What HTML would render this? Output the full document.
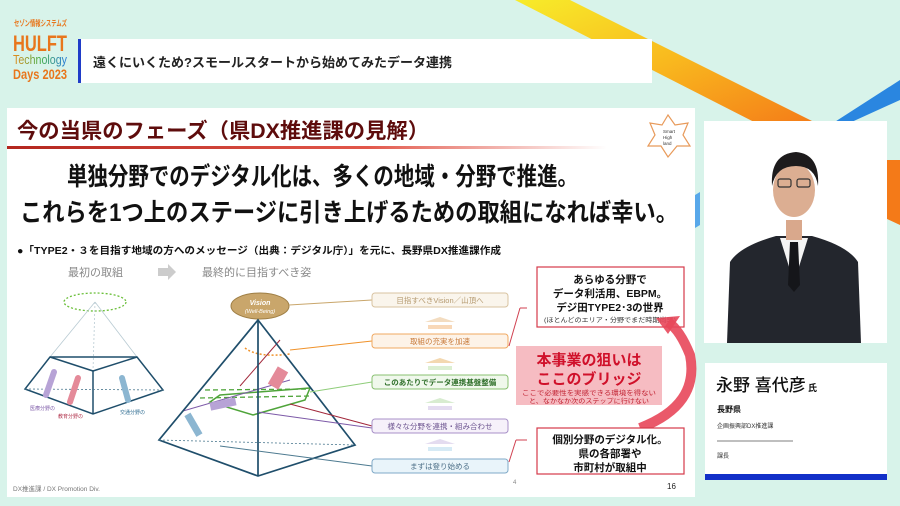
<!DOCTYPE html>
<html><head><meta charset="utf-8"><style>
html,body{margin:0;padding:0;width:900px;height:506px;overflow:hidden;background:#d8f3ea}
svg{display:block}
text{font-family:"Liberation Sans","Noto Sans CJK JP",sans-serif}
</style></head><body>
<svg width="900" height="506" viewBox="0 0 900 506" xmlns="http://www.w3.org/2000/svg">
<defs>
<linearGradient id="yel" x1="0" y1="0" x2="1" y2="1"><stop offset="0" stop-color="#f7ec2a"/><stop offset="0.5" stop-color="#f9b81e"/><stop offset="1" stop-color="#f47a18"/></linearGradient>
<linearGradient id="redl" x1="0" x2="1"><stop offset="0" stop-color="#b3261e"/><stop offset="0.6" stop-color="#e2574a"/><stop offset="1" stop-color="#fff"/></linearGradient>
<linearGradient id="tec" x1="0" x2="1"><stop offset="0" stop-color="#e98a1c"/><stop offset="0.5" stop-color="#49b04a"/><stop offset="1" stop-color="#2a7be0"/></linearGradient>
</defs>
<rect width="900" height="506" fill="#d8f3ea"/>
<!-- stripes -->
<polygon points="515,0 570,0 820,125 760,125" fill="url(#yel)"/>
<polygon points="885,160 900,160 900,225 885,218" fill="#f47a18"/>
<polygon points="900,80 900,100 845,125 830,125" fill="#2a86e0"/>
<polygon points="695,195 700,192 700,225 695,228" fill="#58a8ea"/>
<!-- logo -->
<text x="14" y="26" font-size="8" fill="#e8761c" font-weight="bold" textLength="53" lengthAdjust="spacingAndGlyphs">セゾン情報システムズ</text>
<text x="13" y="51" font-size="22" fill="#e8761c" font-weight="bold" textLength="54" lengthAdjust="spacingAndGlyphs">HULFT</text>
<text x="13" y="64" font-size="13" fill="url(#tec)" textLength="54" lengthAdjust="spacingAndGlyphs">Technology</text>
<text x="13" y="79" font-size="14" fill="#e8761c" font-weight="bold" textLength="54" lengthAdjust="spacingAndGlyphs">Days 2023</text>
<!-- header bar -->
<rect x="78" y="39" width="574" height="44" fill="#fff"/>
<rect x="78" y="39" width="3" height="44" fill="#1f3cc8"/>
<text x="93" y="67" font-size="13" fill="#222" font-weight="bold">遠くにいくため?スモールスタートから始めてみたデータ連携</text>
<!-- slide -->
<rect x="7" y="108" width="688" height="389" fill="#fff"/>
<text x="17" y="138" font-size="21" font-weight="bold" fill="#5e0c0c" textLength="412" lengthAdjust="spacingAndGlyphs">今の当県のフェーズ（県DX推進課の見解）</text>
<rect x="7" y="146" width="600" height="3" fill="url(#redl)"/>
<!-- Smart High land logo -->
<polygon points="668,115 675,125 688,123 683,135 690,146 677,146 668,157 661,146 648,146 655,135 650,123 662,125" fill="none" stroke="#e89a5a" stroke-width="1.2"/>
<text x="663" y="133" font-size="4.5" fill="#333">Smart</text><text x="663" y="139" font-size="4.5" fill="#333">High</text><text x="663" y="145" font-size="4.5" fill="#333">land</text>
<text x="67" y="185" font-size="25" font-weight="bold" fill="#111" textLength="511" lengthAdjust="spacingAndGlyphs">単独分野でのデジタル化は、多くの地域・分野で推進。</text>
<text x="20" y="221" font-size="25" font-weight="bold" fill="#111" textLength="658" lengthAdjust="spacingAndGlyphs">これらを1つ上のステージに引き上げるための取組になれば幸い。</text>
<text x="17" y="254" font-size="10" font-weight="bold" fill="#111" textLength="484" lengthAdjust="spacingAndGlyphs">●「TYPE2・３を目指す地域の方へのメッセージ（出典：デジタル庁）」を元に、長野県DX推進課作成</text>
<text x="68" y="276" font-size="11" fill="#888">最初の取組</text>
<polygon points="158,268 168,268 168,264 176,272 168,280 168,276 158,276" fill="#ccc"/>
<text x="202" y="276" font-size="11" fill="#888">最終的に目指すべき姿</text>
<!-- left pyramid -->
<ellipse cx="95" cy="302" rx="31" ry="9" fill="none" stroke="#6bbf3a" stroke-width="1.3" stroke-dasharray="2,2"/>
<g stroke="#b9cbd3" stroke-width="0.8" fill="none"><line x1="95" y1="302" x2="50" y2="357"/><line x1="95" y1="302" x2="137" y2="357"/><line x1="95" y1="302" x2="93" y2="371" stroke-dasharray="2,2"/></g>
<g stroke="#1f4e6b" stroke-width="1.5" fill="none">
<polygon points="50,357 137,357 163,390 93,414 25,389"/>
<line x1="93" y1="371" x2="93" y2="414"/><line x1="50" y1="357" x2="93" y2="371"/><line x1="137" y1="357" x2="93" y2="371"/>
</g>
<line x1="25" y1="389" x2="163" y2="390" stroke="#4d7a90" stroke-width="0.8" stroke-dasharray="2,2"/>
<g stroke-width="6" stroke-linecap="round"><line x1="46" y1="395" x2="54" y2="372" stroke="#b7a3d6"/><line x1="70" y1="402" x2="78" y2="378" stroke="#e48a99"/><line x1="128" y1="400" x2="122" y2="378" stroke="#8cb6d1"/></g>
<text x="30" y="410" font-size="5" fill="#7d5aa8">医療分野の</text><text x="58" y="418" font-size="5" fill="#b0304a">教育分野の</text><text x="120" y="414" font-size="5" fill="#2f6d92">交通分野の</text>
<!-- right pyramid -->
<ellipse cx="260" cy="306" rx="29" ry="13" fill="#c9a66b" stroke="#9f7f45" stroke-width="1"/>
<text x="260" y="305" font-size="7" font-style="italic" font-weight="bold" fill="#fff" text-anchor="middle">Vision</text>
<text x="260" y="313" font-size="5.5" font-style="italic" fill="#fff" text-anchor="middle">(Well-Being)</text>
<path d="M245,348 Q258,358 290,354" stroke="#f0922a" stroke-width="1.5" fill="none" stroke-dasharray="2,2"/>
<polygon points="220,395 310,388 305,400 253,415 210,402" fill="none" stroke="#4fa43a" stroke-width="1.5"/>
<line x1="205" y1="390" x2="310" y2="389" stroke="#4fa43a" stroke-width="1.3" stroke-dasharray="5,3"/>
<line x1="200" y1="398" x2="310" y2="396" stroke="#4fa43a" stroke-width="1.3" stroke-dasharray="5,3"/>
<line x1="183" y1="411" x2="290" y2="380" stroke="#7d5aa8" stroke-width="1"/>
<line x1="240" y1="386" x2="280" y2="340" stroke="#a2283b" stroke-width="1"/>
<rect x="210" y="400" width="26" height="8" fill="#b7a3d6" transform="rotate(-12 223 404)"/>
<rect x="272" y="368" width="12" height="20" fill="#e48a99" transform="rotate(30 278 378)"/>
<rect x="190" y="413" width="7" height="24" fill="#8cb6d1" transform="rotate(-30 193 425)"/>
<g stroke="#1f4e6b" stroke-width="1.7" fill="none">
<polygon points="258,320 355,445 258,476 159,440"/>
<line x1="258" y1="320" x2="258" y2="476"/>
</g>
<line x1="159" y1="440" x2="355" y2="445" stroke="#4d7a90" stroke-width="0.8" stroke-dasharray="2,2"/>
<!-- connector lines -->
<g stroke-width="1" fill="none">
<line x1="289" y1="305" x2="372" y2="300" stroke="#c9a66b"/>
<line x1="290" y1="350" x2="372" y2="341" stroke="#f0922a"/>
<line x1="310" y1="392" x2="372" y2="382" stroke="#8fcd7a"/>
<line x1="290" y1="404" x2="372" y2="426" stroke="#a2283b"/>
<line x1="258" y1="412" x2="372" y2="428" stroke="#7d5aa8"/>
<line x1="220" y1="446" x2="372" y2="466" stroke="#4d7a90"/>
</g>
<!-- label boxes -->
<g font-size="7.5" text-anchor="middle">
<rect x="372" y="293" width="136" height="14" rx="3" fill="#faf5ec" stroke="#d8c3a0"/><text x="440" y="303" fill="#b59a70">目指すべきVision／山頂へ</text>
<rect x="372" y="334" width="136" height="14" rx="3" fill="#fdf3e8" stroke="#f0a860"/><text x="440" y="344" fill="#c87a3a">取組の充実を加速</text>
<rect x="372" y="375" width="136" height="14" rx="3" fill="#f0f8ec" stroke="#88c070"/><text x="440" y="385" fill="#2f6f2a" font-weight="bold">このあたりでデータ連携基盤整備</text>
<rect x="372" y="419" width="136" height="14" rx="3" fill="#f6f1fa" stroke="#a890c8"/><text x="440" y="429" fill="#6d5590">様々な分野を連携・組み合わせ</text>
<rect x="372" y="459" width="136" height="14" rx="3" fill="#e9f4fa" stroke="#80aac8"/><text x="440" y="469" fill="#4d6f88">まずは登り始める</text>
</g>
<g>
<polygon points="425,322 455,322 440,317" fill="#f3dcc0"/><rect x="428" y="325" width="24" height="4" fill="#f8d8b8"/>
<polygon points="425,363 455,363 440,358" fill="#f3d8b0"/><rect x="428" y="366" width="24" height="4" fill="#dcefd2"/>
<polygon points="425,403 455,403 440,398" fill="#d8ecd0"/><rect x="428" y="406" width="24" height="4" fill="#e4dcf0"/>
<polygon points="425,444 455,444 440,439" fill="#e4dcf0"/><rect x="428" y="447" width="24" height="4" fill="#d6eaf5"/>
</g>
<line x1="509" y1="346" x2="520" y2="308" stroke="#d04050" stroke-width="1"/><line x1="520" y1="308" x2="527" y2="308" stroke="#d04050" stroke-width="1"/>
<line x1="509" y1="462" x2="516" y2="440" stroke="#d04050" stroke-width="1"/><line x1="516" y1="440" x2="527" y2="440" stroke="#d04050" stroke-width="1"/>
<!-- red boxes -->
<rect x="537" y="267" width="147" height="60" fill="#fff" stroke="#d63a4a" stroke-width="1.2"/>
<g text-anchor="middle" font-weight="bold" fill="#111">
<text x="610" y="283" font-size="10.5">あらゆる分野で</text>
<text x="610" y="297" font-size="10.5">データ利活用、EBPM。</text>
<text x="610" y="311" font-size="10.5">デジ田TYPE2･3の世界</text>
</g>
<text x="610" y="322" font-size="6.5" fill="#333" text-anchor="middle" textLength="132" lengthAdjust="spacingAndGlyphs">(ほとんどのエリア・分野でまだ時期尚早)</text>
<rect x="516" y="346" width="146" height="59" fill="#f6bcc2"/>
<text x="589" y="365" font-size="15" font-weight="bold" fill="#d0102a" text-anchor="middle">本事業の狙いは</text>
<text x="589" y="384" font-size="15" font-weight="bold" fill="#d0102a" text-anchor="middle">ここのブリッジ</text>
<text x="589" y="395" font-size="6.3" fill="#c02030" text-anchor="middle" textLength="134" lengthAdjust="spacingAndGlyphs">ここで必要性を実感できる環境を得ない</text>
<text x="589" y="403" font-size="6.3" fill="#c02030" text-anchor="middle" textLength="120" lengthAdjust="spacingAndGlyphs">と、なかなか次のステップに行けない</text>
<path d="M640,428 Q700,405 690,355 Q680,330 668,322" stroke="#e8475a" stroke-width="10" fill="none" opacity="0.9"/>
<polygon points="656,318 680,316 668,334" fill="#e8475a" opacity="0.9"/>
<rect x="537" y="428" width="147" height="46" fill="#fff" stroke="#d63a4a" stroke-width="1.2"/>
<g text-anchor="middle" font-weight="bold" fill="#111" font-size="10.5">
<text x="610" y="443">個別分野のデジタル化。</text>
<text x="610" y="457">県の各部署や</text>
<text x="610" y="471">市町村が取組中</text>
</g>
<text x="513" y="484" font-size="6" fill="#888">4</text>
<text x="667" y="489" font-size="8" fill="#222">16</text>
<text x="13" y="491" font-size="6.5" fill="#777">DX推進課 / DX Promotion Div.</text>
<!-- photo -->
<rect x="704" y="121" width="183" height="222" fill="#fff"/>
<path d="M727,343 L730,262 Q740,246 776,236 L812,236 Q848,246 858,262 L861,343 Z" fill="#23262d"/>
<polygon points="780,238 808,238 798,270 790,270" fill="#f4f4f4"/>
<polygon points="790,242 798,242 800,285 794,292 788,285" fill="#15161a"/>
<rect x="786" y="220" width="16" height="20" fill="#d9a88c"/>
<ellipse cx="794" cy="190" rx="21" ry="27" fill="#dcae92"/>
<path d="M772,186 Q770,154 796,152 Q820,154 818,186 Q815,166 796,166 Q776,166 772,186Z" fill="#1d1b1c"/>
<rect x="778" y="179" width="13" height="8" rx="2" fill="none" stroke="#333" stroke-width="1.2"/>
<rect x="797" y="179" width="13" height="8" rx="2" fill="none" stroke="#333" stroke-width="1.2"/>
<!-- name card -->
<rect x="705" y="363" width="182" height="117" fill="#fff"/>
<rect x="705" y="474" width="182" height="6" fill="#1230c8"/>
<text x="716" y="391" font-size="17" fill="#111" font-weight="500">永野 喜代彦</text>
<text x="808" y="391" font-size="9" fill="#111" font-weight="bold">氏</text>
<text x="717" y="412" font-size="8" fill="#111" font-weight="bold">長野県</text>
<text x="717" y="428" font-size="6" fill="#333">企画振興部DX推進課</text>
<line x1="717" y1="441" x2="793" y2="441" stroke="#555" stroke-width="0.8"/>
<text x="717" y="458" font-size="6" fill="#333">課長</text>
</svg>
</body></html>
